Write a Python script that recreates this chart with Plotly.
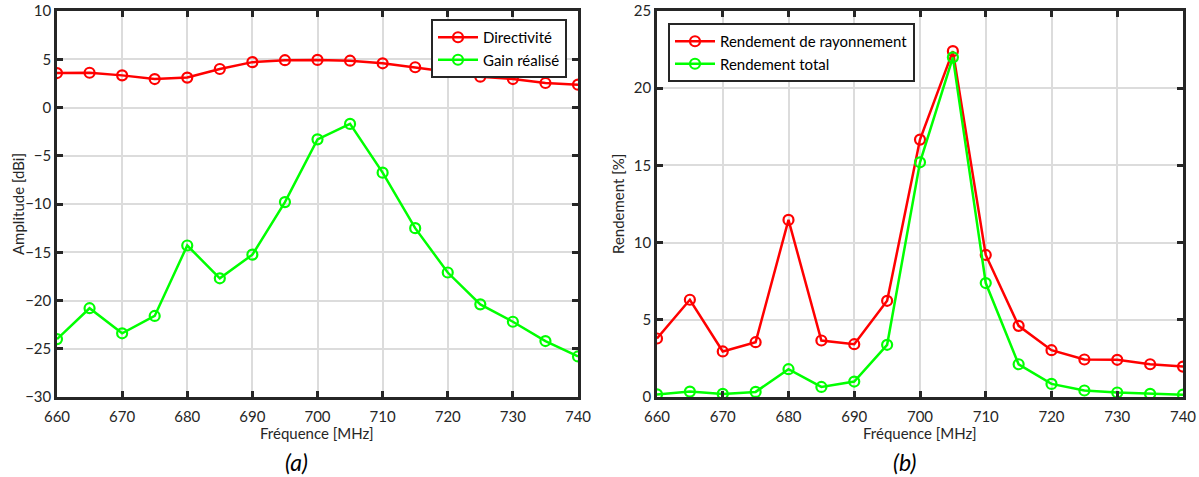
import plotly.graph_objects as go

freq = [660, 665, 670, 675, 680, 685, 690, 695, 700, 705, 710, 715, 720, 725, 730, 735, 740]

directivite = [3.57, 3.6, 3.33, 2.95, 3.1, 3.99, 4.7, 4.9, 4.93, 4.85, 4.58, 4.17, 3.71, 3.19, 2.95, 2.54, 2.37]
gain_realise = [-24.0, -20.8, -23.4, -21.6, -14.3, -17.7, -15.25, -9.8, -3.3, -1.7, -6.75, -12.5,
                -17.1, -20.4, -22.2, -24.2, -25.8]

rend_rayonnement = [3.79, 6.3, 2.95, 3.55, 11.47, 3.66, 3.42, 6.23, 16.67, 22.4, 9.2, 4.61,
                    3.03, 2.43, 2.41, 2.12, 1.97]
rend_total = [0.17, 0.35, 0.2, 0.33, 1.8, 0.65, 1.0, 3.38, 15.2, 22.0, 7.38, 2.12,
              0.85, 0.42, 0.29, 0.2, 0.15]

x_ticks = list(range(660, 741, 10))

FONT = "Lato"
AXIS_COLOR = "#262626"
RED = "#ff0000"
GREEN = "#00ff00"

W, H = 1199, 477


def fx(px):
    return px / W


def fy(py):
    return 1 - py / H


def trace(x, y, name, color, xa, ya, legend):
    return go.Scatter(
        x=x, y=y, name=name, mode="lines+markers",
        line=dict(color=color, width=2.5),
        marker=dict(symbol="circle-open", size=10, color=color, line=dict(width=2.2, color=color)),
        xaxis=xa, yaxis=ya, legend=legend,
    )


fig = go.Figure()
fig.add_trace(trace(freq, directivite, "Directivité", RED, "x", "y", "legend"))
fig.add_trace(trace(freq, gain_realise, "Gain réalisé", GREEN, "x", "y", "legend"))
fig.add_trace(trace(freq, rend_rayonnement, "Rendement de rayonnement", RED, "x2", "y2", "legend2"))
fig.add_trace(trace(freq, rend_total, "Rendement total", GREEN, "x2", "y2", "legend2"))

y_dom = [fy(397), fy(11)]

axis_common = dict(
    showline=True, linewidth=2.5, linecolor=AXIS_COLOR, mirror="allticks",
    ticks="inside", ticklen=6, tickwidth=2.5, tickcolor=AXIS_COLOR,
    showgrid=True, gridcolor="#dcdcdc", gridwidth=1.8, zeroline=False, automargin=False,
    ticklabeloverflow="allow",
    tickfont=dict(family=FONT, size=15, color=AXIS_COLOR),
)


def label(text, x, y, size=15, angle=0, color=AXIS_COLOR):
    return dict(text=text, x=fx(x), y=fy(y), xref="paper", yref="paper",
                xanchor="center", yanchor="middle", textangle=angle, showarrow=False,
                font=dict(family=FONT, size=size, color=color))


legend_common = dict(
    bgcolor="white", bordercolor=AXIS_COLOR, borderwidth=2,
    font=dict(family=FONT, size=15, color="black"), tracegroupgap=0, itemwidth=40,
)

fig.update_layout(
    width=W, height=H,
    margin=dict(l=0, r=0, t=0, b=0),
    paper_bgcolor="white", plot_bgcolor="white",
    font=dict(family=FONT, size=15, color=AXIS_COLOR),
    xaxis=dict(domain=[fx(57), fx(578)], range=[660, 740], tickvals=x_ticks, anchor="y",
               ticklabelstandoff=4, **axis_common),
    yaxis=dict(domain=y_dom, range=[-30, 10], dtick=5, anchor="x", **axis_common),
    xaxis2=dict(domain=[fx(657), fx(1183)], range=[660, 740], tickvals=x_ticks, anchor="y2",
                ticklabelstandoff=4, **axis_common),
    yaxis2=dict(domain=y_dom, range=[0, 25], dtick=5, anchor="x2", **axis_common),
    legend=dict(x=fx(567), y=fy(19), xanchor="right", yanchor="top", **legend_common),
    legend2=dict(x=fx(668), y=fy(23), xanchor="left", yanchor="top", **legend_common),
    annotations=[
        label("Fréquence [MHz]", 317, 433),
        label("Fréquence [MHz]", 920, 433),
        label("Amplitude [dBi]", 18, 204, angle=-90),
        label("Rendement [%]", 618, 204, angle=-90),
        label("<i>(a)</i>", 296, 462, size=23, color="black"),
        label("<i>(b)</i>", 904, 462, size=23, color="black"),
    ],
)

# the page keeps the browser's 8px body margin unless it is removed
fig.write_html("out.html", config={"displayModeBar": False},
               post_script="document.body.style.margin = '0px';")
